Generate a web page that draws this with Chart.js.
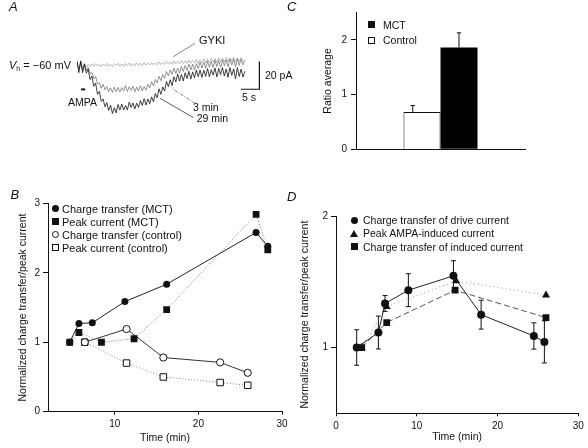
<!DOCTYPE html>
<html><head><meta charset="utf-8">
<script src="https://cdn.jsdelivr.net/npm/chart.js@4/dist/chart.umd.min.js"></script>
<style>
html,body{margin:0;padding:0;background:#fff;}
#wrap{position:relative;width:588px;height:448px;overflow:hidden;font-family:"Liberation Sans",Arial,sans-serif;color:#111;}
canvas{position:absolute;}
.t{position:absolute;white-space:nowrap;line-height:12px;font-size:10.5px;}
.lt{position:absolute;font-style:italic;font-size:13px;line-height:14px;}
.mk{position:absolute;box-sizing:border-box;}
.fc{width:7px;height:7px;border-radius:50%;background:#111;}
.oc{width:7px;height:7px;border-radius:50%;background:#fff;border:1px solid #111;}
.fs{width:7px;height:7px;background:#111;}
.os{width:7px;height:7px;background:#fff;border:1px solid #111;}
.tr{width:0;height:0;border-left:4px solid transparent;border-right:4px solid transparent;border-bottom:7px solid #111;}
sub{font-size:7px;vertical-align:-2px;}
</style></head><body><div id="wrap">
<canvas id="cA" width="186" height="75" style="left:77px;top:45px;width:186px;height:75px"></canvas>
<canvas id="cC" width="288" height="165" style="left:300px;top:0px;width:288px;height:165px"></canvas>
<canvas id="cB" width="295" height="288" style="left:0px;top:160px;width:295px;height:288px"></canvas>
<canvas id="cD" width="298" height="288" style="left:290px;top:160px;width:298px;height:288px"></canvas>
<svg width="588" height="448" style="position:absolute;left:0;top:0;pointer-events:none">
<line x1="195" y1="43.3" x2="173.3" y2="56.7" stroke="#666" stroke-width="0.8"/>
<line x1="195" y1="103.3" x2="171.7" y2="88.3" stroke="#555" stroke-width="0.8" stroke-dasharray="3 1.5 1 1.5"/>
<line x1="193.3" y1="117.5" x2="160" y2="98.3" stroke="#333" stroke-width="0.8"/>
</svg>
<!-- panel letters -->
<div class="lt" style="left:9px;top:0px">A</div>
<div class="lt" style="left:287px;top:0px">C</div>
<div class="lt" style="left:10.5px;top:188px">B</div>
<div class="lt" style="left:287px;top:189.5px">D</div>
<!-- panel A labels -->
<div class="t" style="left:199px;top:33.5px;font-size:11px">GYKI</div>
<div class="t" style="left:9px;top:59px;font-size:11px"><i>V</i><sub>h</sub> = −60 mV</div>
<div class="t" style="left:68px;top:95.7px">AMPA</div>
<div class="t" style="left:265px;top:69px">20 pA</div>
<div class="t" style="left:242px;top:90.7px">5 s</div>
<div class="t" style="left:193px;top:100.7px">3 min</div>
<div class="t" style="left:196.7px;top:112.3px">29 min</div>
<!-- legend C -->
<div class="mk fs" style="left:368.2px;top:21px"></div>
<div class="t" style="left:383px;top:18.5px">MCT</div>
<div class="mk os" style="left:368.2px;top:36.5px"></div>
<div class="t" style="left:383px;top:34px">Control</div>
<!-- legend B -->
<div class="mk fc" style="left:51.5px;top:205px"></div>
<div class="t" style="left:62px;top:202.5px;font-size:11px">Charge transfer (MCT)</div>
<div class="mk fs" style="left:51.5px;top:218px"></div>
<div class="t" style="left:62px;top:215.5px;font-size:11px">Peak current (MCT)</div>
<div class="mk oc" style="left:51.5px;top:231px"></div>
<div class="t" style="left:62px;top:228.5px;font-size:11px">Charge transfer (control)</div>
<div class="mk os" style="left:51.5px;top:244px"></div>
<div class="t" style="left:62px;top:241.5px;font-size:11px">Peak current (control)</div>
<!-- legend D -->
<div class="mk fc" style="left:350.5px;top:216.5px"></div>
<div class="t" style="left:363px;top:214px">Charge transfer of drive current</div>
<div class="mk tr" style="left:350px;top:229.8px"></div>
<div class="t" style="left:363px;top:227.3px">Peak AMPA-induced current</div>
<div class="mk fs" style="left:350.5px;top:243.2px"></div>
<div class="t" style="left:363px;top:240.7px">Charge transfer of induced current</div>
</div>
<script>
// ---------- Panel A: current traces (s, pA) ----------
const traceTime = [0,0.5,1,1.5,2,2.5,3,3.5,4,4.5,5,5.5,6,6.5,7,7.5,8,8.5,9,9.5,10,10.5,11,11.5,12,12.5,13,13.5,14,14.5,15,15.5,16,16.5,17,17.5,18,18.5,19,19.5,20,20.5,21,21.5,22,22.5,23,23.5,24,24.5,25,25.5,26,26.5,27,27.5,28,28.5,29,29.5,30,30.5,31,31.5,32,32.5,33,33.5,34,34.5,35,35.5,36,36.5,37,37.5,38,38.5,39,39.5,40,40.5,41,41.5,42,42.5,43,43.5,44,44.5,45];
const traceGYKI = [2,-3,2.5,-2.5,1,-1.5,0.5,-1.2,0.8,-1,
 1,-0.8,0.3,-1.4,0.9,-0.6,1.2,-1,0.4,-1.2,
 1,-0.5,1.3,-0.9,0.6,-1.1,1.1,-0.4,1.4,-0.8,
 0.9,-0.6,1.5,-0.4,1.2,-0.5,1.7,-0.2,1.4,0,
 1.9,0.1,1.6,0.2,2.2,0.3,1.9,0.4,2.5,0.6,
 2.3,0.5,2.8,0.9,2.5,0.8,3.3,1,3,1.2,
 3.6,1.3,3.2,1.4,4,1.2,3.7,1.7,4.4,1.6,
 4.1,1.9,4.8,2,4.5,1.8,5.2,2.3,4.9,2.2,
 5.5,2.4,5,2.6,5.6,2.1,5.2,2.5,5.4,2.6,
 4];
const trace3min = [2.5,-3.3,1.5,-3.5,0.1,-3.9,-1.8,-6.4,-5.5,-10,
 -8.3,-13.5,-13,-16.8,-14,-17.8,-15.5,-19.3,-16.5,-19.8,
 -16,-19.3,-16.2,-19.5,-16.3,-18.7,-15,-19.1,-15.7,-18.3,
 -15.3,-19.4,-16,-18.8,-15,-18.8,-15.5,-18.3,-14,-16.5,
 -12,-15,-10.5,-13,-8.1,-11.3,-6.9,-9.6,-4.7,-7.9,
 -3.5,-6.7,-2.3,-6,-2.2,-5.8,-1,-4.7,-0.3,-4,
 0.7,-3.6,0.7,-3.6,1.1,-2.7,2.1,-2.2,2,-2.4,
 2.8,-1.6,2.5,-1.8,3.3,-1.1,3.1,-1.8,3.8,-0.5,
 3.6,-1.3,4.4,0,4.1,-1.2,4.4,-0.2,4.2,0.1,
 3];
const trace29min = [3,-5.5,3,-5.6,0.8,-5.9,-3,-10.5,-8,-15.3,
 -13,-21.2,-19,-26.2,-24.5,-30.1,-27.2,-32.8,-29,-35,
 -30.8,-34.5,-28.5,-32.5,-28.2,-32.4,-29.2,-32.5,-26.8,-30.6,
 -27.4,-31.7,-27.5,-30.6,-25.7,-29.2,-24.3,-28.9,-24.5,-28,
 -23,-26.6,-20.6,-23.6,-17.2,-21.2,-15.8,-18.8,-11.9,-15.6,
 -10.7,-14.9,-8.5,-12.2,-6.4,-11.6,-6.8,-11.5,-5.6,-9.8,
 -4.5,-10.2,-5,-9.3,-3.6,-8.4,-3.7,-9,-3.8,-8.2,
 -2.6,-8.5,-3.4,-7.3,-2.2,-8.6,-2.5,-6.9,-1.9,-7.9,
 -2.9,-8.9,-1.9,-7.4,-2.9,-9.9,-1.9,-8.2,-3,-8.7,
 -4.5];
const scaleBarSec = 5, scaleBarPA = 20;
const ampaStart = 1.1, ampaEnd = 2.2;

// ---------- Panel B ----------
const bCtMctT = [4.6, 5.7, 7.3, 11.2, 16.2, 26.9, 28.3];
const bCtMctV = [1.0, 1.27, 1.28, 1.585, 1.835, 2.58, 2.38];
const bPkMctT = [4.6, 5.7, 8.4, 12.3, 16.2, 26.9, 28.3];
const bPkMctV = [1.0, 1.14, 1.0, 1.05, 1.47, 2.84, 2.33];
const bCtCtlT = [6.4, 11.4, 15.8, 22.6, 25.9];
const bCtCtlV = [1.0, 1.19, 0.78, 0.71, 0.56];
const bPkCtlT = [6.4, 11.4, 15.8, 22.6, 25.9];
const bPkCtlV = [1.0, 0.70, 0.50, 0.42, 0.38];
const bXTicks = [10, 20, 30];
const bYTicks = [0, 1, 2, 3];

// ---------- Panel C ----------
const cCategories = [''];
const cControl = [0.68], cControlErr = [0.12];
const cMCT = [1.86], cMCTErr = [0.27];
const cYTicks = [0, 1, 2];

// ---------- Panel D ----------
const dDriveT = [2.56, 5.25, 6.07, 8.96, 14.54, 17.97, 24.5, 25.8];
const dDriveV = [1.0, 1.114, 1.335, 1.436, 1.545, 1.25, 1.088, 1.043];
const dDriveErr = [0.135, 0.125, 0.06, 0.125, 0.115, 0.11, 0.1, 0.16];
const dPeakT = [3.18, 6.28, 14.87, 26.0];
const dPeakV = [1.0, 1.31, 1.507, 1.398];
const dIndT = [3.18, 6.28, 14.75, 26.0];
const dIndV = [1.0, 1.19, 1.436, 1.228];
const dXTicks = [0, 10, 20, 30];
const dYTicks = [1, 2];

// ---------- helpers ----------
const FONT = '"Liberation Sans", Arial, sans-serif';
Chart.defaults.font.family = FONT;
Chart.defaults.color = '#111';
const pts = (xs, ys) => xs.map((x, i) => ({x: x, y: ys[i]}));
const setTicks = vals => (s => { s.ticks = vals.map(v => ({value: v})); });
const base = {
  responsive: false, animation: false, devicePixelRatio: 1, events: [],
  plugins: {legend: {display: false}, tooltip: {enabled: false}}
};
function axis(extra) {
  return Object.assign({
    grid: {display: true, drawOnChartArea: false, drawTicks: true, tickLength: 5, color: '#111', lineWidth: 1},
    border: {display: true, color: '#111', width: 1},
    ticks: {padding: 3, font: {size: 10}, color: '#111', callback: v => String(v), maxRotation: 0, autoSkip: false}
  }, extra);
}

function drawErrorBars(chart) {
  const ctx = chart.ctx, ys = chart.scales.y, xs = chart.scales.x;
  chart.data.datasets.forEach((ds, di) => {
    if (!ds.errors) return;
    const meta = chart.getDatasetMeta(di);
    ctx.save();
    ctx.strokeStyle = '#111';
    ctx.lineWidth = 1;
    ds.errors.forEach((e, i) => {
      const el = meta.data[i];
      let v, x;
      if (chart.config.type === 'bar') {
        v = ds.data[i];
        x = el.x + (ds.errOffset || 0) * el.width;
      } else {
        v = ds.data[i].y;
        x = xs.getPixelForValue(ds.data[i].x);
      }
      const yTop = ys.getPixelForValue(v + e);
      const yBot = ys.getPixelForValue(v - e);
      const yMid = ys.getPixelForValue(v);
      const cap = ds.capHalf || 2.5;
      ctx.beginPath();
      if (ds.upOnly) {
        ctx.moveTo(x, yMid); ctx.lineTo(x, yTop);
        ctx.moveTo(x - cap, yTop); ctx.lineTo(x + cap, yTop);
      } else {
        ctx.moveTo(x, yBot); ctx.lineTo(x, yTop);
        ctx.moveTo(x - cap, yTop); ctx.lineTo(x + cap, yTop);
        ctx.moveTo(x - cap, yBot); ctx.lineTo(x + cap, yBot);
      }
      ctx.stroke();
    });
    ctx.restore();
  });
}
const errorBarsOver = {id: 'errorBarsOver', afterDatasetsDraw: drawErrorBars};
const errorBarsUnder = {id: 'errorBarsUnder', beforeDatasetsDraw: drawErrorBars};

// ---------- Chart A ----------
const tracePlugin = {
  id: 'traceMarks',
  afterDatasetsDraw(chart) {
    const ctx = chart.ctx, xs = chart.scales.x, ys = chart.scales.y;
    const t0 = 48.9, v0 = -17.5; // corner of the calibration bar
    ctx.save();
    ctx.strokeStyle = '#111'; ctx.lineWidth = 1.2;
    ctx.beginPath();
    ctx.moveTo(xs.getPixelForValue(t0 - scaleBarSec), ys.getPixelForValue(v0));
    ctx.lineTo(xs.getPixelForValue(t0), ys.getPixelForValue(v0));
    ctx.lineTo(xs.getPixelForValue(t0), ys.getPixelForValue(v0 + scaleBarPA));
    ctx.stroke();
    ctx.lineWidth = 2;
    ctx.beginPath();
    ctx.moveTo(xs.getPixelForValue(ampaStart), ys.getPixelForValue(-17.6));
    ctx.lineTo(xs.getPixelForValue(ampaEnd), ys.getPixelForValue(-17.6));
    ctx.stroke();
    ctx.restore();
  }
};
new Chart(document.getElementById('cA'), {
  type: 'scatter',
  data: {datasets: [
    {data: pts(traceTime, trace29min), showLine: true, borderColor: '#111', borderWidth: 0.8, pointRadius: 0},
    {data: pts(traceTime, trace3min), showLine: true, borderColor: '#666', borderWidth: 0.7, pointRadius: 0},
    {data: pts(traceTime, traceGYKI), showLine: true, borderColor: '#888', borderWidth: 0.6, pointRadius: 0}
  ]},
  options: Object.assign({}, base, {
    layout: {padding: 0},
    scales: {
      x: {type: 'linear', display: false, min: 0, max: 49.87},
      y: {type: 'linear', display: false, min: -39.68, max: 14.43}
    }
  }),
  plugins: [tracePlugin]
});

// ---------- Chart B ----------
new Chart(document.getElementById('cB'), {
  type: 'scatter',
  data: {datasets: [
    {data: pts(bPkMctT, bPkMctV), showLine: true, borderColor: '#777', borderWidth: 1, borderDash: [1, 2],
     pointStyle: 'rect', pointRadius: 4.8, pointBackgroundColor: '#111', pointBorderColor: '#111', pointBorderWidth: 0},
    {data: pts(bCtMctT, bCtMctV), showLine: true, borderColor: '#222', borderWidth: 1,
     pointStyle: 'circle', pointRadius: 3.5, pointBackgroundColor: '#111', pointBorderColor: '#111', pointBorderWidth: 0},
    {data: pts(bCtCtlT, bCtCtlV), showLine: true, borderColor: '#333', borderWidth: 1,
     pointStyle: 'circle', pointRadius: 3.6, pointBackgroundColor: '#fff', pointBorderColor: '#111', pointBorderWidth: 1},
    {data: pts(bPkCtlT, bPkCtlV), showLine: true, borderColor: '#888', borderWidth: 1, borderDash: [1, 2],
     pointStyle: 'rect', pointRadius: 4.6, pointBackgroundColor: '#fff', pointBorderColor: '#111', pointBorderWidth: 1}
  ]},
  options: Object.assign({}, base, {
    layout: {padding: {top: 43.3, right: 13, left: 0, bottom: 0}},
    scales: {
      x: axis({type: 'linear', min: 2, max: 30, afterBuildTicks: setTicks(bXTicks),
        afterFit: s => { s.height = 36.3; },
        grid: {display: true, drawOnChartArea: false, tickLength: 3, color: '#111'},
        ticks: {padding: 4, font: {size: 10}, color: '#111', callback: v => String(v), maxRotation: 0, autoSkip: false},
        title: {display: true, text: 'Time (min)', font: {size: 10.5}, color: '#111', padding: {top: 0, bottom: 3.4}}}),
      y: axis({type: 'linear', min: 0, max: 3, afterBuildTicks: setTicks(bYTicks),
        afterFit: s => { s.width = 48; },
        title: {display: true, text: 'Normalized charge transfer/peak current', font: {size: 10.5}, color: '#111', padding: {top: 16.5, bottom: 0}}})
    }
  })
});

// ---------- Chart C ----------
new Chart(document.getElementById('cC'), {
  type: 'bar',
  data: {labels: cCategories, datasets: [
    {label: 'Control', data: cControl, errors: cControlErr, errOffset: -0.25, upOnly: true, capHalf: 2.2,
     backgroundColor: '#fff', borderColor: '#111', borderWidth: {top: 1, left: 1, right: 1, bottom: 0},
     borderSkipped: false, barPercentage: 1, categoryPercentage: 0.438},
    {label: 'MCT', data: cMCT, errors: cMCTErr, upOnly: true, capHalf: 2.2,
     backgroundColor: '#000', borderColor: '#000', borderWidth: 0, barPercentage: 1, categoryPercentage: 0.438}
  ]},
  options: Object.assign({}, base, {
    layout: {padding: {top: 12.6, right: 63, left: 0, bottom: 0}},
    scales: {
      x: {type: 'category', afterFit: s => { s.height = 15.7; },
        grid: {display: false}, ticks: {display: false}, border: {display: true, color: '#111', width: 1}},
      y: axis({type: 'linear', min: 0, max: 2.5, afterBuildTicks: setTicks(cYTicks),
        afterFit: s => { s.width = 56; },
        ticks: {padding: 4, font: {size: 10}, color: '#111', callback: v => String(v), autoSkip: false},
        title: {display: true, text: 'Ratio average', font: {size: 10.5}, color: '#111', padding: {top: 21.7, bottom: 0}}})
    }
  }),
  plugins: [errorBarsOver]
});

// ---------- Chart D ----------
new Chart(document.getElementById('cD'), {
  type: 'scatter',
  data: {datasets: [
    {data: pts(dDriveT, dDriveV), errors: dDriveErr, capHalf: 2.5, showLine: true, borderColor: '#222', borderWidth: 1,
     pointStyle: 'circle', pointRadius: 4, pointBackgroundColor: '#111', pointBorderColor: '#111', pointBorderWidth: 0},
    {data: pts(dIndT, dIndV), showLine: true, borderColor: '#555', borderWidth: 1, borderDash: [6, 3],
     pointStyle: 'rect', pointRadius: 4.8, pointBackgroundColor: '#111', pointBorderColor: '#111', pointBorderWidth: 0},
    {data: pts(dPeakT, dPeakV), showLine: true, borderColor: '#999', borderWidth: 1, borderDash: [1, 3],
     pointStyle: 'triangle', pointRadius: 4.6, pointBackgroundColor: '#111', pointBorderColor: '#111', pointBorderWidth: 0}
  ]},
  options: Object.assign({}, base, {
    layout: {padding: {top: 56, right: 9.7, left: 0, bottom: 0}},
    scales: {
      x: axis({type: 'linear', min: 0, max: 30, afterBuildTicks: setTicks(dXTicks),
        afterFit: s => { s.height = 34.7; },
        grid: {display: true, drawOnChartArea: false, tickLength: 3, color: '#111'},
        ticks: {padding: 4, font: {size: 10}, color: '#111', callback: v => String(v), maxRotation: 0, autoSkip: false},
        title: {display: true, text: 'Time (min)', font: {size: 10.5}, color: '#111', padding: {top: 0, bottom: 4.4}}}),
      y: axis({type: 'linear', min: 0.5, max: 2, afterBuildTicks: setTicks(dYTicks),
        afterFit: s => { s.width = 46; },
        ticks: {padding: 3, font: {size: 10}, color: '#111', callback: v => String(v), autoSkip: false},
        title: {display: true, text: 'Normalized charge transfer/peak current', font: {size: 10.5}, color: '#111', padding: {top: 8.7, bottom: 0}}})
    }
  }),
  plugins: [errorBarsUnder]
});
</script>
</body></html>
